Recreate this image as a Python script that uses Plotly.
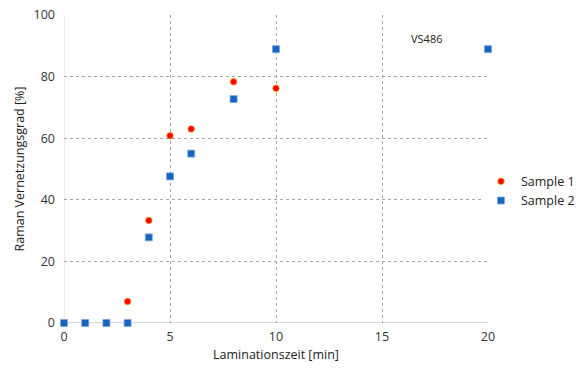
import plotly.graph_objects as go

x1 = [0, 1, 2, 3, 4, 5, 6, 8, 10]
y1 = [0, 0, 0, 7.0, 33.3, 60.8, 63.0, 78.3, 76.2]
x2 = [0, 1, 2, 3, 4, 5, 6, 8, 10, 20]
y2 = [0, 0, 0, 0, 27.8, 47.6, 55.0, 72.7, 88.9, 88.9]
xticks = [0, 5, 10, 15, 20]
yticks = [0, 20, 40, 60, 80, 100]

font = "Open Sans"
fig = go.Figure()
fig.add_trace(go.Scatter(x=x1, y=y1, mode="markers", name="Sample 1",
                         marker=dict(symbol="circle", size=6.5, color="#ff0000",
                                     line=dict(color="#e3a21a", width=0.8)),
                         cliponaxis=False))
fig.add_trace(go.Scatter(x=x2, y=y2, mode="markers", name="Sample 2",
                         marker=dict(symbol="square", size=7, color="#1565c0",
                                     line=dict(color="#7fa7e0", width=0.8)),
                         cliponaxis=False))
fig.add_annotation(x=17.1, y=92.5, text="VS486", showarrow=False,
                   font=dict(family=font, size=11, color="#222"))
fig.update_layout(
    width=576, height=369,
    margin=dict(l=64, r=88, t=15, b=46, autoexpand=False),
    paper_bgcolor="white", plot_bgcolor="white",
    font=dict(family=font, size=12.5, color="#333"),
    legend=dict(xref="container", yref="container", x=0.835, y=0.482,
                yanchor="middle", xanchor="left",
                font=dict(family=font, size=12.5, color="#222"),
                itemwidth=30, tracegroupgap=2),
    xaxis=dict(range=[0, 20], tickvals=xticks, showgrid=True, gridcolor="#a6a6a6",
               griddash="dot", gridwidth=1, zeroline=False, showline=False,
               automargin=False, ticklabelstandoff=4,
               ticks="", title=dict(text="Laminationszeit [min]", standoff=6,
                                    font=dict(size=12.5, color="#222"))),
    yaxis=dict(range=[0, 100], tickvals=yticks, showgrid=True, gridcolor="#a6a6a6",
               griddash="dot", gridwidth=1, zeroline=False, showline=False,
               automargin=False, ticklabelstandoff=8,
               ticks="", title=dict(text="Raman Vernetzungsgrad [%]", standoff=6,
                                    font=dict(size=12.5, color="#222"))),
)
fig.add_shape(type="line", xref="x", yref="y", x0=0, x1=20, y0=0, y1=0,
              line=dict(color="#d9d9d9", width=2), layer="below")
fig.add_shape(type="line", xref="x", yref="y", x0=0, x1=0, y0=0, y1=100,
              line=dict(color="#d9d9d9", width=1), layer="below")
fig.write_html("out.html", config={"displayModeBar": False},
               post_script="document.body.style.margin='0';document.body.style.overflow='hidden';")
